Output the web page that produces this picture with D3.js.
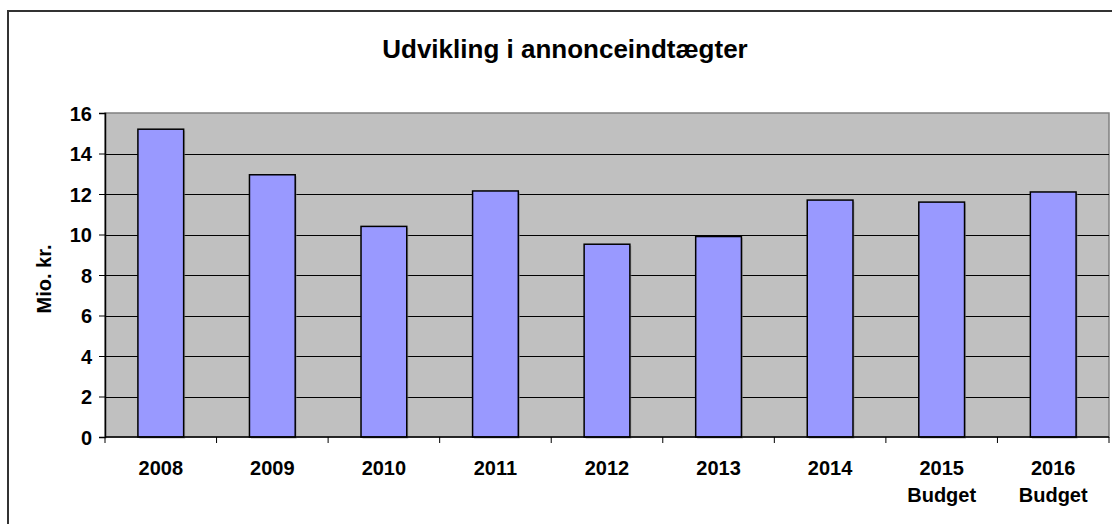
<!DOCTYPE html>
<html>
<head>
<meta charset="utf-8">
<script src="https://cdn.jsdelivr.net/npm/d3@7"></script>
<style>
  body { margin: 0; background: #fff; }
  text { font-family: "Liberation Sans", Arial, sans-serif; font-weight: bold; fill: #000; }
</style>
</head>
<body>
<div id="chart"></div>
<script>
var years = ["2008", "2009", "2010", "2011", "2012", "2013", "2014", "2015", "2016"];
var subLabels = ["", "", "", "", "", "", "", "Budget", "Budget"];
var values = [15.2, 12.95, 10.4, 12.15, 9.52, 9.9, 11.7, 11.6, 12.1];
var yTicks = [0, 2, 4, 6, 8, 10, 12, 14, 16];

var W = 1112, H = 524;
var margin = {top: 113, right: 3, bottom: 87, left: 105},
    width = W - margin.left - margin.right,
    height = H - margin.top - margin.bottom;

var svg = d3.select("#chart").append("svg")
    .attr("width", W)
    .attr("height", H);

// outer chart border (runs off right/bottom)
svg.append("rect")
  .attr("x", 8).attr("y", 11)
  .attr("width", W + 10).attr("height", H + 10)
  .attr("fill", "none")
  .attr("stroke", "#333")
  .attr("stroke-width", 2);

svg.append("text")
  .attr("x", 565).attr("y", 58)
  .attr("text-anchor", "middle")
  .style("font-size", "26px")
  .text("Udvikling i annonceindtægter");

var g = svg.append("g")
  .attr("transform", "translate(" + margin.left + "," + margin.top + ")");

var x = d3.scaleBand().domain(years).range([0, width]).paddingInner(0).paddingOuter(0);
var y = d3.scaleLinear().domain([0, 16]).range([height, 0]);

// plot area
g.append("rect")
  .attr("width", width).attr("height", height)
  .attr("fill", "#c0c0c0")
  .attr("stroke", "#808080")
  .attr("stroke-width", 1.5);

// gridlines
g.selectAll(".grid")
  .data(yTicks.filter(function(d) { return d > 0 && d < 16; }))
  .enter().append("line")
  .attr("x1", 0).attr("x2", width)
  .attr("y1", function(d) { return Math.round(y(d)) + 0.5; })
  .attr("y2", function(d) { return Math.round(y(d)) + 0.5; })
  .attr("stroke", "#000")
  .attr("stroke-width", 1);

// bars
var bw = x.bandwidth() * 0.41;
g.selectAll(".shadow")
  .data(values)
  .enter().append("rect")
  .attr("x", function(d, i) { return x(years[i]) + (x.bandwidth() - bw) / 2 + 1.5; })
  .attr("y", function(d) { return y(d) + 1.5; })
  .attr("width", bw)
  .attr("height", function(d) { return height - y(d); })
  .attr("fill", "#888")
  .attr("opacity", 0.6);

g.selectAll(".bar")
  .data(values)
  .enter().append("rect")
  .attr("class", "bar")
  .attr("x", function(d, i) { return x(years[i]) + (x.bandwidth() - bw) / 2; })
  .attr("y", function(d) { return y(d); })
  .attr("width", bw)
  .attr("height", function(d) { return height - y(d); })
  .attr("fill", "#9999ff")
  .attr("stroke", "#000")
  .attr("stroke-width", 1.5);

// y axis
var yAxis = d3.axisLeft(y).tickValues(yTicks).tickSize(6).tickPadding(7);
var ya = g.append("g").call(yAxis);
ya.select(".domain").attr("stroke", "#000").attr("stroke-width", 1.5);
ya.selectAll(".tick line").attr("stroke", "#000");
ya.selectAll(".tick text").style("font-size", "20px").attr("dy", "0.36em");

// x axis
var xa = g.append("g").attr("transform", "translate(0," + height + ")");
xa.append("line")
  .attr("x1", 0).attr("x2", width)
  .attr("stroke", "#000").attr("stroke-width", 1.5);
xa.selectAll(".xt")
  .data(years.concat(["end"]))
  .enter().append("line")
  .attr("x1", function(d, i) { return i * x.step(); })
  .attr("x2", function(d, i) { return i * x.step(); })
  .attr("y1", 0).attr("y2", 6)
  .attr("stroke", "#000");

var lbl = xa.selectAll(".xl")
  .data(years)
  .enter().append("text")
  .attr("text-anchor", "middle")
  .attr("x", function(d) { return x(d) + x.bandwidth() / 2; })
  .attr("y", 38)
  .style("font-size", "20px");
lbl.append("tspan").text(function(d) { return d; });
lbl.append("tspan")
  .attr("x", function(d) { return x(d) + x.bandwidth() / 2; })
  .attr("dy", 27)
  .text(function(d, i) { return subLabels[i]; });

svg.append("text")
  .attr("transform", "translate(51,279) rotate(-90)")
  .attr("text-anchor", "middle")
  .style("font-size", "20px")
  .text("Mio. kr.");
</script>
</body>
</html>
